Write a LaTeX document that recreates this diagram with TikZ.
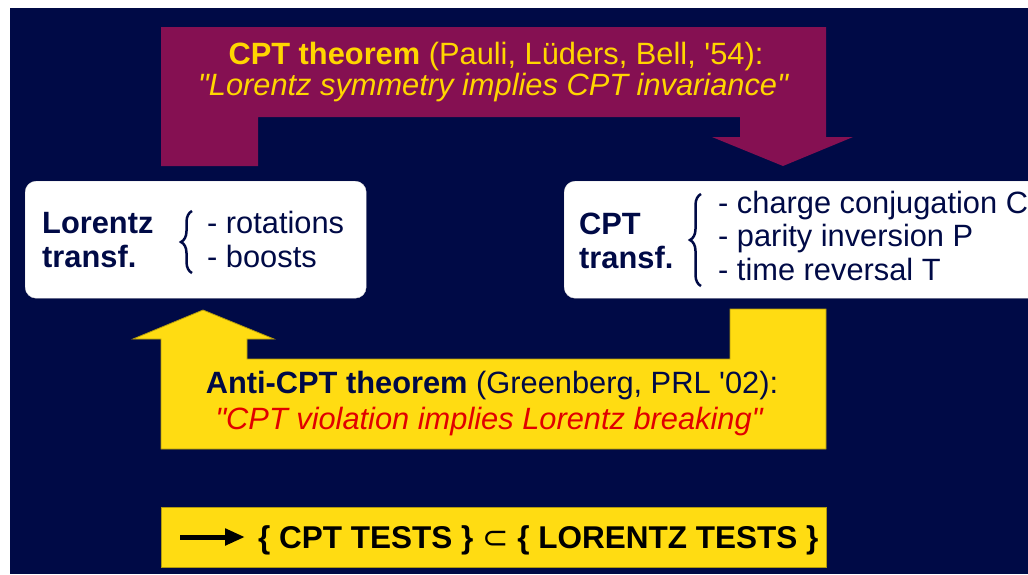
\documentclass[tikz,border=0pt]{standalone}
\usepackage{fontspec}
\setmainfont{Liberation Sans}
\newfontfamily\symbolfont{DejaVu Sans}
\usetikzlibrary{arrows.meta, positioning, decorations.pathreplacing}

\definecolor{navy}{RGB}{0,10,70}
\definecolor{plum}{RGB}{133,16,82}
\definecolor{gold}{RGB}{255,220,18}
\definecolor{goldtext}{RGB}{255,214,0}
\definecolor{redtext}{RGB}{225,0,0}
\newcommand{\bigfont}{\fontsize{30.8}{34}\selectfont}
\newcommand{\listfont}{\fontsize{30.8}{33.5}\selectfont}
\newcommand{\qq}{\textquotedbl}

\tikzset{
  txt/.style={inner sep=0pt, anchor=base, font=\bigfont},
  txtl/.style={txt, anchor=base west, align=left},
  whitebox/.style={fill=white, draw=gray!25, rounded corners=11pt, anchor=north west, inner sep=0pt},
  goldbox/.style={fill=gold, draw=gold!70!black, line width=0.8pt, anchor=north west, inner sep=0pt},
  curly/.style={navy, line width=2.5pt, decorate, decoration={brace, amplitude=11pt}},
}

\begin{document}
\begin{tikzpicture}[x=1pt,y=-1pt]
\useasboundingbox (0,0) rectangle (1028,574);
\fill[navy] (10,8) rectangle (1028,574);

% CPT theorem: Lorentz -> CPT
\fill[plum] (161,27) -- (826,27) -- (826,137) -- (853,137) -- (783,166) -- (712,137)
  -- (740,137) -- (740,117) -- (258,117) -- (258,166) -- (161,166) -- cycle;
\node[txt, goldtext] (cpthead) at (496,64) {\textbf{CPT theorem} (Pauli, Lüders, Bell, \textquotesingle54):};
\node[txt, goldtext] (cptquote) at (493,95) {\itshape \qq Lorentz symmetry implies CPT invariance\qq};

% Anti-CPT theorem: CPT -> Lorentz
\filldraw[fill=gold, draw=gold!70!black, line width=0.8pt] (161,449) -- (826,449) -- (826,309) -- (730,309)
  -- (730,359) -- (247,359) -- (247,339) -- (274,339) -- (203,310) -- (133,339) -- (161,339) -- cycle;
\node[txt, navy] (antihead) at (492,393) {\textbf{Anti-CPT theorem} (Greenberg, PRL \textquotesingle02):};
\node[txt, redtext] (antiquote) at (489,429) {\itshape \qq CPT violation implies Lorentz breaking\qq};

% the two boxes (base = last line)
\node[whitebox, minimum width=341pt, minimum height=117pt] (lorbox) at (25,181) {};
\node[txtl, navy] (lorname) at (42,267) {\textbf{Lorentz}\\\textbf{transf.}};
\draw[curly] (192,273) -- (192,211);
\node[txtl, navy] (loritems) at (207,267) {- rotations\\- boosts};

\node[whitebox, minimum width=480pt, minimum height=117pt] (cptbox) at (564,181) {};
\node[txtl, navy] (cptname) at (579,268) {\textbf{CPT}\\\textbf{transf.}};
\draw[curly] (701,286) -- (701,194);
\node[txtl, navy, font=\listfont] (cptitems) at (718,280) {- charge conjugation C\\- parity inversion P\\- time reversal T};

% conclusion
\node[goldbox, minimum width=665pt, minimum height=60pt] (testbox) at (161,507) {};
\coordinate (arrtail) at (180,537);
\coordinate (arrtip) at (245,537);
\draw[line width=5pt, -{Triangle[length=20pt,width=16pt]}] (arrtail) -- (arrtip);
\node[txtl, font=\fontsize{31.5}{34}\selectfont\bfseries] (tests) at (258,548) {\{ CPT TESTS \} {\symbolfont\mdseries ⊂} \{ LORENTZ TESTS \}};
\end{tikzpicture}
\end{document}
